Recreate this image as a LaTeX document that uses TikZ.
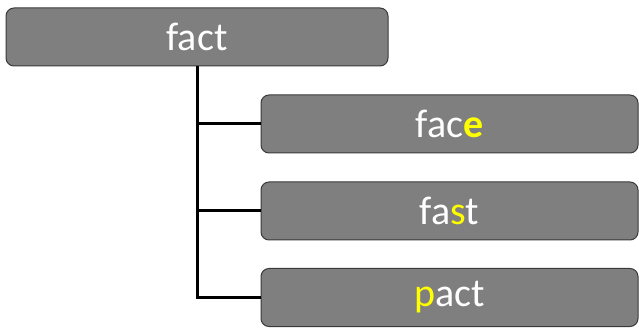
\documentclass[tikz,border=0pt]{standalone}
\usepackage{fontspec}
\setmainfont{Carlito}
\definecolor{boxfill}{HTML}{7F7F7F}
\definecolor{boxedge}{HTML}{3A3A3A}
\definecolor{hl}{HTML}{FFFF00}
\begin{document}
\begin{tikzpicture}[x=1pt,y=-1pt,
  wordbox/.style={draw=boxedge, line width=1pt, fill=boxfill, rounded corners=8pt,
    text=white, font=\fontsize{40}{46}\selectfont, inner sep=0pt},
  branch/.style={line width=3pt, black}]
\useasboundingbox (0,0) rectangle (639,328);
\node[wordbox, minimum width=382pt, minimum height=58pt] (root) at (197,37) {fact};
\node[wordbox, minimum width=377pt, minimum height=58pt] (c1) at (449.5,124) {fac\textcolor{hl}{\textbf{e}}};
\node[wordbox, minimum width=377pt, minimum height=58pt] (c2) at (449.5,211) {fa\textcolor{hl}{s}t};
\node[wordbox, minimum width=377pt, minimum height=58pt] (c3) at (449.5,297.5) {\textcolor{hl}{p}act};
\coordinate (trunk) at (197,297.5);
\draw[branch] (root.south -| trunk) -- (trunk) -- (c3.west);
\draw[branch] (c1.west) -- (c1.west -| trunk);
\draw[branch] (c2.west) -- (c2.west -| trunk);
\end{tikzpicture}
\end{document}
